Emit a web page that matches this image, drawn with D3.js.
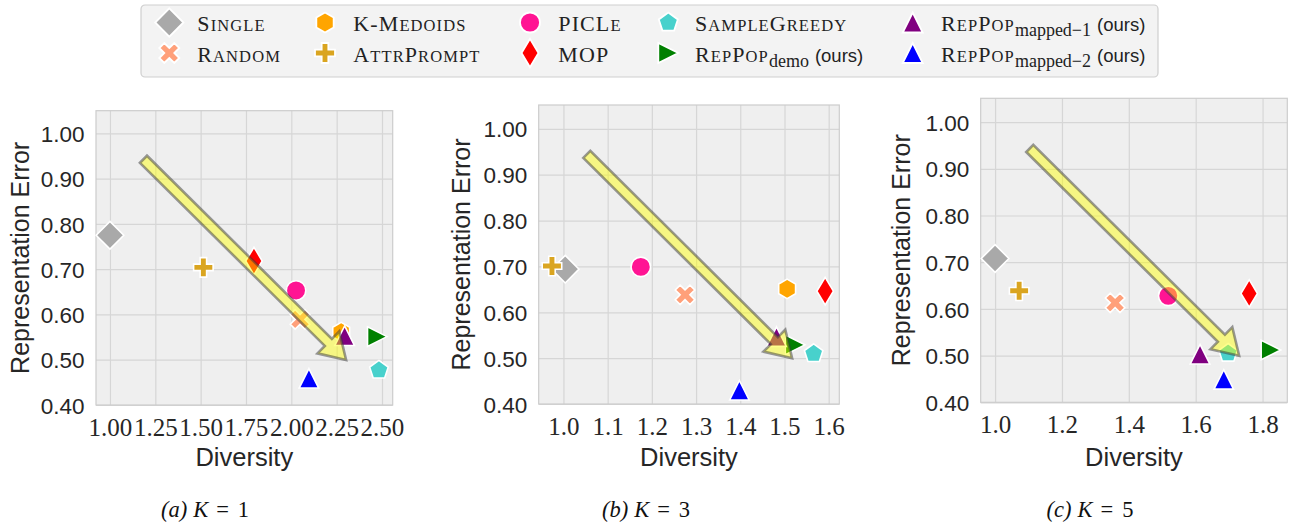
<!DOCTYPE html>
<html><head><meta charset="utf-8">
<script src="https://cdn.jsdelivr.net/npm/d3@7"></script>
<style>body{margin:0;background:#fff;} svg{display:block;}</style>
</head><body><svg id="c" width="1290" height="527"></svg>
<script>
// ---------------- data ----------------
const methods = ["Single","Random","K-Medoids","AttrPrompt","PICLe","MOP","SampleGreedy","RepPop_demo","RepPop_mapped-1","RepPop_mapped-2"];
const legendNames = ["Single","Random","K-Medoids","AttrPrompt","PICLe","MOP","SampleGreedy","RepPop","RepPop","RepPop"];
const legendSubs  = ["","","","","","","","demo","mapped\u22121","mapped\u22122"];
const legendSuffix = ["","","","","","","","(ours)","(ours)","(ours)"];
const colors = ["#a9a9a9","#ffa07a","#ffa500","#daa520","#ff1493","#ff0000","#48d1cc","#008000","#800080","#0000ff"];
const shapes = ["D","X","h","P","o","d","p",">","^","^"];

const divK1 = [1.000, 2.048, 2.275, 1.515, 2.026, 1.794, 2.483, 2.474, 2.294, 2.097];
const errK1 = [0.775, 0.589, 0.561, 0.704, 0.653, 0.718, 0.477, 0.551, 0.553, 0.459];
const divK3 = [1.004, 1.275, 1.506, 0.974, 1.175, 1.592, 1.566, 1.524, 1.482, 1.398];
const errK3 = [0.694, 0.638, 0.651, 0.701, 0.699, 0.646, 0.510, 0.529, 0.547, 0.430];
const divK5 = [1.000, 1.359, null, 1.072, 1.518, 1.760, 1.697, 1.825, 1.613, 1.684];
const errK5 = [0.708, 0.613, null, 0.639, 0.628, 0.633, 0.505, 0.512, 0.503, 0.449];

const xTicksK1 = [1.00, 1.25, 1.50, 1.75, 2.00, 2.25, 2.50];
const xTicksK3 = [1.0, 1.1, 1.2, 1.3, 1.4, 1.5, 1.6];
const xTicksK5 = [1.0, 1.2, 1.4, 1.6, 1.8];
const yTicks = [0.40, 0.50, 0.60, 0.70, 0.80, 0.90, 1.00];
const xLimK1 = [0.923, 2.559], xLimK3 = [0.944, 1.624], xLimK5 = [0.957, 1.874];
const yLimK1 = [0.40, 1.050], yLimK3 = [0.40, 1.052], yLimK5 = [0.40, 1.051];
const captionLetters = ["(a)", "(b)", "(c)"];
const captionK = ["1", "3", "5"];
// arrow trend (axes fraction): tail -> head
const arrowFrac = [[0.16, 0.835], [0.843, 0.153]];

// ---------------- layout ----------------
const svg = d3.select("#c");
const panels = [
  {div: divK1, err: errK1, ticks: xTicksK1, fmt: d3.format(".2f"), xl: xLimK1, yl: yLimK1, L: 96,    R: 392.7,  T: 110.7, B: 405,   ylx: 20.7,  capx: 205},
  {div: divK3, err: errK3, ticks: xTicksK3, fmt: d3.format(".1f"), xl: xLimK3, yl: yLimK3, L: 538.7, R: 839.3,  T: 105,   B: 404,   ylx: 461.7, capx: 646},
  {div: divK5, err: errK5, ticks: xTicksK5, fmt: d3.format(".1f"), xl: xLimK5, yl: yLimK5, L: 980.7, R: 1287.3, T: 98.3,  B: 402.3, ylx: 901.7, capx: 1090}
];

function markerPath(shape, ms) {
  const r = ms / 2, q = r * Math.SQRT2;
  let pts;
  switch (shape) {
    case "o": return `M${r},0A${r},${r} 0 1,1 ${-r},0A${r},${r} 0 1,1 ${r},0Z`;
    case "D": pts = [[0,-q],[q,0],[0,q],[-q,0]]; break;
    case "d": pts = [[0,-q],[0.6*q,0],[0,q],[-0.6*q,0]]; break;
    case "X": pts = [[-1,-2],[0,-1],[1,-2],[2,-1],[1,0],[2,1],[1,2],[0,1],[-1,2],[-2,1],[-1,0],[-2,-1]].map(p => [p[0]*ms/4, p[1]*ms/4]); break;
    case "P": pts = [[-1,-3],[1,-3],[1,-1],[3,-1],[3,1],[1,1],[1,3],[-1,3],[-1,1],[-3,1],[-3,-1],[-1,-1]].map(p => [p[0]*ms/6, p[1]*ms/6]); break;
    case "p": pts = d3.range(5).map(i => { const a = (-90 + i*72) * Math.PI/180; return [r*Math.cos(a), r*Math.sin(a)]; }); break;
    case "h": pts = d3.range(6).map(i => { const a = (-90 + i*60) * Math.PI/180; return [r*Math.cos(a), r*Math.sin(a)]; }); break;
    case "^": pts = [[0,-r],[r,r],[-r,r]]; break;
    case ">": pts = [[r,0],[-r,r],[-r,-r]]; break;
  }
  return "M" + pts.map(p => p[0].toFixed(2) + "," + p[1].toFixed(2)).join("L") + "Z";
}

function arrowPath(x0, y0, x1, y1, tw, hw, hl) {
  const dx = x1 - x0, dy = y1 - y0, len = Math.hypot(dx, dy);
  const ux = dx/len, uy = dy/len, nx = -uy, ny = ux;
  const bx = x1 - ux*hl, by = y1 - uy*hl;
  const P = [
    [x0 + nx*tw/2, y0 + ny*tw/2],
    [bx + nx*tw/2, by + ny*tw/2],
    [bx + nx*hw/2, by + ny*hw/2],
    [x1, y1],
    [bx - nx*hw/2, by - ny*hw/2],
    [bx - nx*tw/2, by - ny*tw/2],
    [x0 - nx*tw/2, y0 - ny*tw/2]
  ];
  return "M" + P.map(p => p[0].toFixed(2) + "," + p[1].toFixed(2)).join("L") + "Z";
}

const textCol = "#262626";
const sansFont = "'Liberation Sans', Arial, sans-serif";
const serifFont = "'Liberation Serif', 'Times New Roman', serif";

panels.forEach((p, pi) => {
  const x = d3.scaleLinear().domain(p.xl).range([p.L, p.R]);
  const y = d3.scaleLinear().domain(p.yl).range([p.B, p.T]);
  const g = svg.append("g");

  g.append("rect").attr("x", p.L).attr("y", p.T).attr("width", p.R - p.L).attr("height", p.B - p.T).attr("fill", "#efefef");

  // grid via axes
  const gx = g.append("g").attr("transform", `translate(0,${p.B})`)
    .call(d3.axisBottom(x).tickValues(p.ticks).tickSize(-(p.B - p.T)).tickFormat(p.fmt).tickPadding(0));
  gx.select(".domain").remove();
  gx.selectAll(".tick line").attr("stroke", "#d6d6d6").attr("stroke-width", 1.2);
  gx.selectAll(".tick text").attr("font-family", serifFont).attr("font-size", 25).attr("fill", textCol)
    .attr("y", 31).attr("dy", 0);

  const gy = g.append("g").attr("transform", `translate(${p.L},0)`)
    .call(d3.axisLeft(y).tickValues(yTicks).tickSize(-(p.R - p.L)).tickFormat(d3.format(".2f")).tickPadding(11.5));
  gy.select(".domain").remove();
  gy.selectAll(".tick line").attr("stroke", "#d6d6d6").attr("stroke-width", 1.2);
  gy.selectAll(".tick text").attr("font-family", sansFont).attr("font-size", 22.5).attr("fill", textCol)
    .attr("dy", "0.36em");

  // spines
  g.append("rect").attr("x", p.L).attr("y", p.T).attr("width", p.R - p.L).attr("height", p.B - p.T)
    .attr("fill", "none").attr("stroke", "#cccccc").attr("stroke-width", 1.2);

  // points
  const pts = methods.map((m, i) => ({m, i, dv: p.div[i], er: p.err[i]})).filter(d => d.dv != null);
  g.selectAll("path.pt").data(pts).enter().append("path").attr("class", "pt")
    .attr("d", d => markerPath(shapes[d.i], 19.5))
    .attr("transform", d => `translate(${x(d.dv)},${y(d.er)})`)
    .attr("fill", d => colors[d.i]).attr("stroke", "#ffffff").attr("stroke-width", 1.6).attr("stroke-linejoin", "miter");

  // trend arrow (axes fraction)
  const fx = d3.scaleLinear().domain([0, 1]).range([p.L, p.R]);
  const fy = d3.scaleLinear().domain([0, 1]).range([p.B, p.T]);
  g.append("path")
    .attr("d", arrowPath(fx(arrowFrac[0][0]), fy(arrowFrac[0][1]), fx(arrowFrac[1][0]), fy(arrowFrac[1][1]), 10, 31, 25))
    .attr("fill", "#ffff00").attr("fill-opacity", 0.45)
    .attr("stroke", "#3a3a3a").attr("stroke-opacity", 0.5).attr("stroke-width", 2.6).attr("stroke-linejoin", "miter");

  // axis labels
  g.append("text").attr("x", (p.L + p.R) / 2).attr("y", 466).attr("text-anchor", "middle")
    .attr("font-family", sansFont).attr("font-size", 25.5).attr("fill", textCol).text("Diversity");
  g.append("text").attr("transform", `translate(${p.ylx},${(p.T + p.B) / 2}) rotate(-90)`)
    .attr("text-anchor", "middle").attr("dy", "0.35em")
    .attr("font-family", sansFont).attr("font-size", 25).attr("fill", textCol).text("Representation Error");

  // caption
  const cap = svg.append("text").attr("x", p.capx).attr("y", 517).attr("text-anchor", "middle")
    .attr("font-family", serifFont).attr("font-size", 22.5).attr("fill", "#111");
  cap.append("tspan").attr("font-style", "italic").text(captionLetters[pi]);
  cap.append("tspan").attr("dx", 6).attr("font-style", "italic").text("K");
  cap.append("tspan").attr("dx", 8).text("=");
  cap.append("tspan").attr("dx", 9).text(captionK[pi]);
});

// ---------------- legend ----------------
const lg = svg.append("g");
lg.append("rect").attr("x", 141).attr("y", 5).attr("width", 1017).attr("height", 72).attr("rx", 4)
  .attr("fill", "#f3f3f3").attr("stroke", "#cfcfcf").attr("stroke-width", 1.2);
const colMarkX = [169.3, 325, 530, 668.3, 912.7];
const colTextX = [197.3, 353.3, 558.3, 695, 941];
const rowMarkY = [22.5, 53];
const rowBase = [30.5, 61.5];

function smallCaps(textSel, str, size) {
  let runs = [];
  for (const ch of str) {
    const low = ch !== ch.toUpperCase();
    if (runs.length && runs[runs.length - 1].low === low) runs[runs.length - 1].s += ch;
    else runs.push({low, s: ch});
  }
  runs.forEach(r => textSel.append("tspan").attr("font-size", r.low ? size * 0.75 : size).text(r.s.toUpperCase()));
}

methods.forEach((m, i) => {
  const col = Math.floor(i / 2), row = i % 2;
  lg.append("path").attr("d", markerPath(shapes[i], 20))
    .attr("transform", `translate(${colMarkX[col]},${rowMarkY[row]})`)
    .attr("fill", colors[i]).attr("stroke", "#fff").attr("stroke-width", 1.8);
  const t = lg.append("text").attr("x", colTextX[col]).attr("y", rowBase[row])
    .attr("font-family", serifFont).attr("font-size", 22).attr("fill", "#222").attr("letter-spacing", 1.1);
  smallCaps(t, legendNames[i], 22);
  if (legendSubs[i]) {
    t.append("tspan").attr("font-size", 18).attr("dy", 5).attr("letter-spacing", 0).text(legendSubs[i]);
    t.append("tspan").attr("font-family", sansFont).attr("font-size", 18.5).attr("dy", -5).attr("dx", 6)
      .attr("letter-spacing", 0).text(legendSuffix[i]);
  }
});
</script>
</body></html>
